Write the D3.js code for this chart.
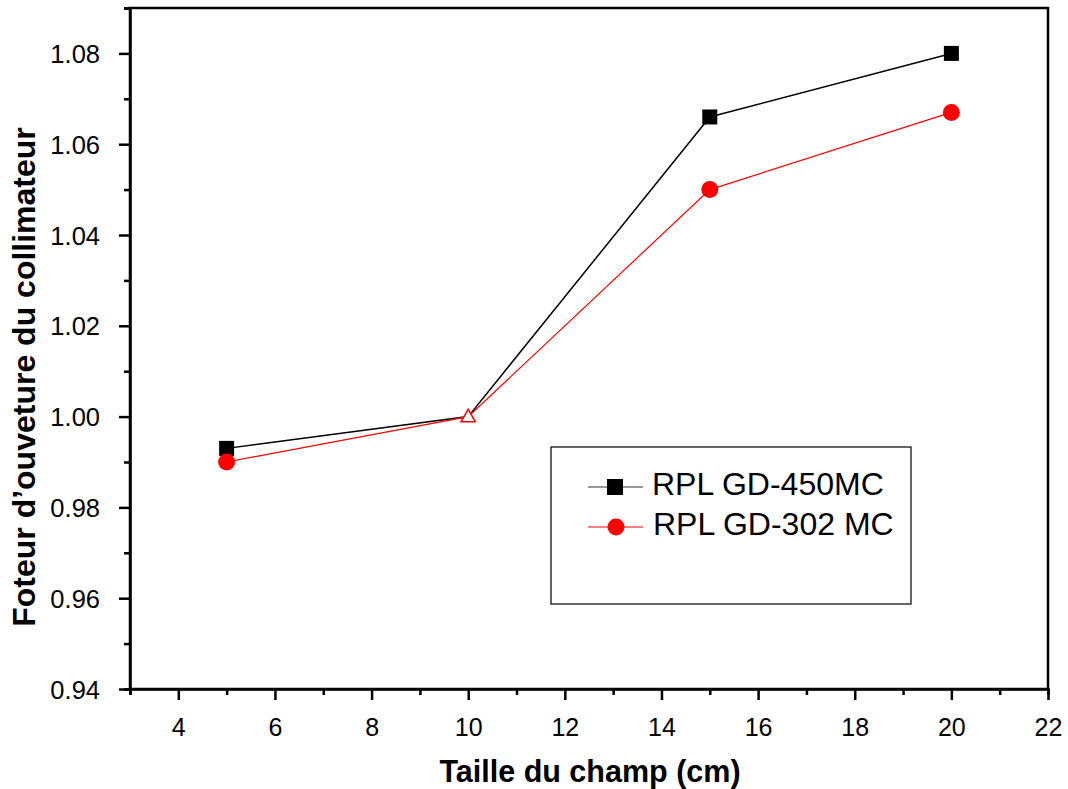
<!DOCTYPE html>
<html>
<head>
<meta charset="utf-8">
<script src="https://cdn.jsdelivr.net/npm/d3@7"></script>
<style>
  body { margin: 0; background: #fff; }
  svg { font-family: "Liberation Sans", Arial, sans-serif; }
</style>
</head>
<body>
<div id="chart"></div>
<script>
// data
const fieldSizes = [5, 10, 15, 20];
const gd450 = [0.993, 1.000, 1.066, 1.080];
const gd302 = [0.990, 1.000, 1.050, 1.067];
const seriesNames = ["RPL GD-450MC", "RPL GD-302 MC"];
const xTicks = [4, 6, 8, 10, 12, 14, 16, 18, 20, 22];
const yTicks = [0.94, 0.96, 0.98, 1.00, 1.02, 1.04, 1.06, 1.08];

const width = 1068, height = 789;
const margin = { top: 8, right: 20, bottom: 100, left: 130 };

const x = d3.scaleLinear([3, 22], [margin.left, width - margin.right]);
const y = d3.scaleLinear([0.94, 1.09], [height - margin.bottom, margin.top]);

const svg = d3.select("#chart").append("svg")
  .attr("width", width)
  .attr("height", height);

/* frame */
svg.append("rect")
  .attr("x", x(3)).attr("y", y(1.09))
  .attr("width", x(22) - x(3))
  .attr("height", y(0.94) - y(1.09))
  .attr("fill", "none")
  .attr("stroke", "#000")
  .attr("stroke-width", 2.5);

/* axes: major ticks long, minor ticks short */
const xAxis = svg.append("g")
  .attr("transform", `translate(0,${y(0.94)})`);
xAxis.call(d3.axisBottom(x).tickValues(d3.range(3, 23, 1)).tickSize(6).tickFormat(""));
xAxis.call(g => g.selectAll(".tick").filter(d => d % 2 === 0).select("line").attr("y2", 11));
xAxis.selectAll(".tick")
  .filter(d => xTicks.includes(d))
  .append("text")
    .attr("y", 47)
    .attr("fill", "#000")
    .attr("text-anchor", "middle")
    .attr("font-size", 25)
    .text(d => d);

const yAxis = svg.append("g")
  .attr("transform", `translate(${x(3)},0)`);
yAxis.call(d3.axisLeft(y).tickValues(d3.range(0, 16).map(i => 0.94 + i * 0.01)).tickSize(6).tickFormat(""));
yAxis.call(g => g.selectAll(".tick").filter((d, i) => i % 2 === 0).select("line").attr("x2", -11));
yAxis.selectAll(".tick")
  .filter((d, i) => i % 2 === 0 && i <= 14)
  .append("text")
    .attr("x", -30)
    .attr("dy", "0.36em")
    .attr("fill", "#000")
    .attr("text-anchor", "end")
    .attr("font-size", 25.5)
    .text((d, i) => yTicks[i].toFixed(2));

svg.selectAll(".domain").attr("stroke-width", 2.5);
svg.selectAll(".tick line").attr("stroke-width", 2.5);

/* titles */
svg.append("text")
  .attr("x", 590)
  .attr("y", 782)
  .attr("text-anchor", "middle")
  .attr("font-size", 30.5)
  .attr("font-weight", "bold")
  .text("Taille du champ (cm)");

svg.append("text")
  .attr("transform", "rotate(-90)")
  .attr("x", -377)
  .attr("y", 35)
  .attr("text-anchor", "middle")
  .attr("font-size", 32)
  .attr("font-weight", "bold")
  .text("Foteur d’ouveture du collimateur");

/* lines */
const line = d3.line().x(d => x(d[0])).y(d => y(d[1]));
const blackPts = fieldSizes.map((f, i) => [f, gd450[i]]);
const redPts   = fieldSizes.map((f, i) => [f, gd302[i]]);

svg.append("path").datum(blackPts)
  .attr("d", line).attr("fill", "none").attr("stroke", "#000").attr("stroke-width", 1.5);
svg.append("path").datum(redPts)
  .attr("d", line).attr("fill", "none").attr("stroke", "#f00").attr("stroke-width", 1.2);

/* markers (the shared point at 10 shows as an open triangle) */
svg.selectAll(".sq").data(blackPts.filter(d => d[0] !== 10)).join("rect")
  .attr("x", d => x(d[0]) - 7.5).attr("y", d => y(d[1]) - 7.5)
  .attr("width", 15).attr("height", 15).attr("fill", "#000");
svg.selectAll(".dot").data(redPts.filter(d => d[0] !== 10)).join("circle")
  .attr("cx", d => x(d[0])).attr("cy", d => y(d[1]))
  .attr("r", 8.5).attr("fill", "#f00");
svg.append("path")
  .attr("transform", `translate(${x(10)},${y(1.0) + 1})`)
  .attr("d", d3.symbol(d3.symbolTriangle, 90)())
  .attr("fill", "#fff")
  .attr("stroke", "#f00")
  .attr("stroke-width", 1.5);

/* legend */
const legend = svg.append("g").attr("transform", "translate(551,447)");
legend.append("rect")
  .attr("width", 360).attr("height", 157)
  .attr("fill", "#fff").attr("stroke", "#000").attr("stroke-width", 1.2);

const rows = [
  { name: seriesNames[0], color: "#000", shape: "square", y: 40, base: 48, tx: 101 },
  { name: seriesNames[1], color: "#f00", shape: "circle", y: 80, base: 88, tx: 102 }
];
rows.forEach(r => {
  legend.append("line")
    .attr("x1", 37).attr("x2", 92).attr("y1", r.y).attr("y2", r.y)
    .attr("stroke", r.color === "#000" ? "#333" : "#f00").attr("stroke-width", 1.2);
  if (r.shape === "square") {
    legend.append("rect").attr("x", 56).attr("y", r.y - 8)
      .attr("width", 16).attr("height", 16).attr("fill", "#000");
  } else {
    legend.append("circle").attr("cx", 65).attr("cy", r.y).attr("r", 8.5).attr("fill", "#f00");
  }
  legend.append("text")
    .attr("x", r.tx).attr("y", r.base)
    .attr("font-size", 32)
    .text(r.name);
});
</script>
</body>
</html>
